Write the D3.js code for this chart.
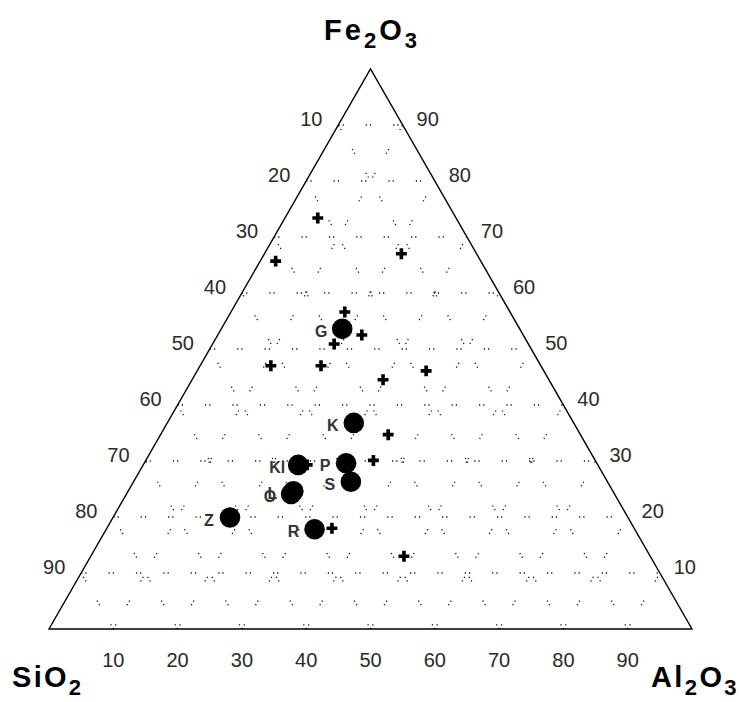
<!DOCTYPE html>
<html>
<head>
<meta charset="utf-8">
<script src="https://cdn.jsdelivr.net/npm/d3@7"></script>
<style>
  html, body { margin: 0; padding: 0; background: #fff; }
  svg { display: block; }
</style>
</head>
<body>
<svg id="chart" width="739" height="702"></svg>
<script>
// ---------- data (percentages: SiO2, Al2O3, Fe2O3) ----------
const tickValues = [10, 20, 30, 40, 50, 60, 70, 80, 90];

const sampleLabels = ["G", "K", "Kl", "P", "S", "O", "L", "R", "Z"];
const sampleSiO2   = [27.6, 34.2, 46.6, 39.0, 39.9, 50.3, 49.7, 49.8, 61.9];
const sampleAl2O3  = [18.8, 29.0, 24.1, 31.4, 33.8, 25.6, 25.7, 32.4, 18.2];
const sampleFe2O3  = [53.6, 36.8, 29.3, 29.6, 26.3, 24.1, 24.6, 17.8, 19.9];

const crossSiO2  = [21.5, 31.9, 11.7, 25.7, 25.1, 30.2, 42.0, 34.2, 25.8, 18.3, 29.9, 34.5, 47.0, 38.3, 45.2];
const crossAl2O3 = [ 5.1,  2.4, 21.3, 17.7, 22.4, 18.9, 11.0, 18.8, 29.7, 35.6, 35.4, 35.4, 35.0, 48.7, 25.5];
const crossFe2O3 = [73.4, 65.7, 67.0, 56.6, 52.5, 50.9, 47.0, 47.0, 44.5, 46.1, 34.7, 30.1, 18.0, 13.0, 29.3];

// ---------- scales ----------
const svg = d3.select("#chart");
const feY = d3.scaleLinear().domain([0, 100]).range([629, 69]);
const alX = d3.scaleLinear().domain([0, 100]).range([49, 692]);
const feShift = d3.scaleLinear().domain([0, 100]).range([0, 321.5]);
const pos = (al, fe) => [alX(al) + feShift(fe), feY(fe)];

const FONT = "Arial, 'Liberation Sans', Helvetica, sans-serif";

// ---------- grid ----------
const gridLines = [];
tickValues.forEach(v => {
  gridLines.push([pos(0, v), pos(100 - v, v)]);        // Fe2O3 = v
  gridLines.push([pos(v, 0), pos(v, 100 - v)]);        // Al2O3 = v
  gridLines.push([pos(100 - v, 0), pos(0, 100 - v)]);  // SiO2 = v
});
svg.append("g").selectAll("line").data(gridLines).join("line")
  .attr("x1", d => d[0][0]).attr("y1", d => d[0][1])
  .attr("x2", d => d[1][0]).attr("y2", d => d[1][1])
  .attr("stroke", "#111").attr("stroke-width", 1.3)
  .attr("stroke-dasharray", "1.2,3,1.2,22");

// ---------- triangle ----------
svg.append("path")
  .attr("d", d3.line()([pos(0, 0), pos(100, 0), pos(0, 100)]) + "Z")
  .attr("fill", "none").attr("stroke", "#000").attr("stroke-width", 1.4);

// ---------- tick labels ----------
const tickG = svg.append("g")
  .attr("font-family", FONT).attr("font-size", 20).attr("fill", "#2a2a2a")
  .attr("text-anchor", "middle");
// bottom (Al2O3)
tickG.selectAll("text.b").data(tickValues).join("text").attr("class", "b")
  .attr("x", v => pos(v, 0)[0]).attr("y", v => pos(v, 0)[1] + 38)
  .text(v => v);
// left edge (SiO2)
tickG.selectAll("text.l").data(tickValues).join("text").attr("class", "l")
  .attr("x", v => pos(0, 100 - v)[0] - 27).attr("y", v => pos(0, 100 - v)[1] + 1)
  .text(v => v);
// right edge (Fe2O3)
tickG.selectAll("text.r").data(tickValues).join("text").attr("class", "r")
  .attr("x", v => pos(100 - v, v)[0] + 25).attr("y", v => pos(100 - v, v)[1] + 1)
  .text(v => v);

// ---------- crosses ----------
const crosses = crossFe2O3.map((fe, i) => ({ al: crossAl2O3[i], fe }));
svg.append("g").selectAll("path").data(crosses).join("path")
  .attr("transform", d => `translate(${pos(d.al, d.fe)})`)
  .attr("d", d3.symbol().type(d3.symbolCross).size(66))
  .attr("fill", "#000");

// ---------- samples ----------
const samples = sampleLabels.map((lab, i) => ({ lab, al: sampleAl2O3[i], fe: sampleFe2O3[i] }));
svg.append("g").selectAll("circle").data(samples).join("circle")
  .attr("cx", d => pos(d.al, d.fe)[0]).attr("cy", d => pos(d.al, d.fe)[1])
  .attr("r", 10.3).attr("fill", "#000");
svg.append("g").attr("font-family", FONT).attr("font-size", 16).attr("font-weight", "bold")
  .attr("fill", "#333").attr("text-anchor", "middle")
  .selectAll("text").data(samples).join("text")
  .attr("x", d => pos(d.al, d.fe)[0] - 21).attr("y", d => pos(d.al, d.fe)[1] + 8)
  .text(d => d.lab);

// ---------- component titles ----------
function formula(parts, x, y, anchor, spacing) {
  const t = svg.append("text").attr("x", x).attr("y", y)
    .attr("font-family", FONT).attr("font-weight", "bold").attr("fill", "#000")
    .attr("text-anchor", anchor).attr("letter-spacing", spacing);
  let sub = false;
  parts.forEach(p => {
    const isSub = /\d/.test(p);
    const ts = t.append("tspan").text(p).attr("font-size", isSub ? 22 : 29);
    if (isSub && !sub) ts.attr("dy", 8);
    if (!isSub && sub) ts.attr("dy", -8);
    sub = isSub;
  });
  return t;
}
formula(["Fe", "2", "O", "3"], 372, 40, "middle", 3);
formula(["SiO", "2"], 12, 687, "start", 2.3);
formula(["Al", "2", "O", "3"], 739, 687, "end", 2.4);
</script>
</body>
</html>
